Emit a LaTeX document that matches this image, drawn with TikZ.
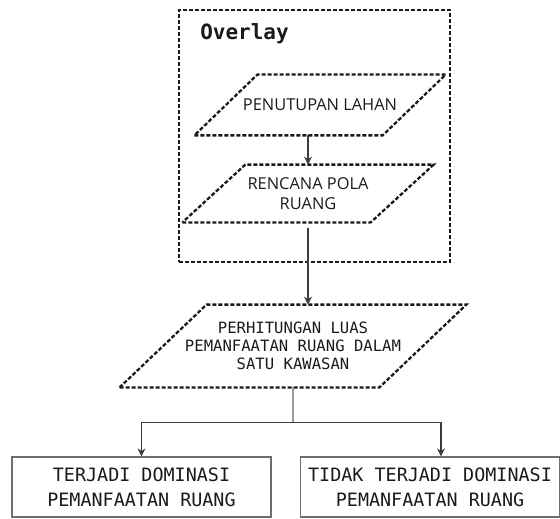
\documentclass[tikz,border=0pt]{standalone}
\usepackage{fontspec}
\setsansfont{Open Sans}
\setmonofont{DejaVu Sans Mono}
\usetikzlibrary{arrows.meta, positioning, calc}
\definecolor{boxgray}{HTML}{6E6E6E}
\definecolor{stemgray}{HTML}{9A9A9A}
\definecolor{inkblack}{HTML}{1A1A1A}

\begin{document}
\begin{tikzpicture}[
    x=0.5pt, y=-0.5pt,
    dashline/.style={draw=inkblack, line width=1.15pt, dash pattern=on 2pt off 1pt},
    paratext/.style={inner sep=0pt, align=center, text=inkblack},
    result/.style={draw=boxgray, line width=0.6pt, align=center, text=inkblack,
      font=\ttfamily\fontsize{9.2}{12.5}\selectfont,
      minimum width=129.5pt, minimum height=30pt, inner sep=0pt},
    conn/.style={draw=inkblack!85, line width=0.6pt},
    >={Stealth[length=4pt, width=4pt]},
  ]
  \useasboundingbox (0,0) rectangle (560,518);

  % Overlay frame
  \node[dashline, minimum width=135.5pt, minimum height=126pt, inner sep=0pt] (ov) at (314.5,136) {};
  \node[anchor=west, inner sep=0pt, text=inkblack, font=\ttfamily\bfseries\fontsize{10.5}{12}\selectfont]
    (ovtitle) at ([xshift=11pt, yshift=-12.5pt]ov.north west) {Overlay};

  % Input layers
  \node[paratext, font=\sffamily\fontsize{8.2}{10}\selectfont, minimum width=93.75pt, minimum height=30pt]
    (lahan) at (320,105) {PENUTUPAN LAHAN};
  \draw[dashline] ([xshift=-15.75pt]lahan.south west) -- ([xshift=-15.75pt]lahan.south east)
    -- ([xshift=15.75pt]lahan.north east) -- ([xshift=15.75pt]lahan.north west) -- cycle;

  \node[paratext, font=\sffamily\fontsize{8.2}{10}\selectfont, minimum width=93.75pt, minimum height=28.5pt]
    (pola) at (308,193.5) {RENCANA POLA\\RUANG};
  \draw[dashline] ([xshift=-15.75pt]pola.south west) -- ([xshift=-15.75pt]pola.south east)
    -- ([xshift=15.75pt]pola.north east) -- ([xshift=15.75pt]pola.north west) -- cycle;

  % Calculation
  \node[paratext, font=\ttfamily\fontsize{7.8}{9}\selectfont, minimum width=129.5pt, minimum height=41pt]
    (luas) at (293,346) {PERHITUNGAN LUAS\\PEMANFAATAN RUANG DALAM\\SATU KAWASAN};
  \draw[dashline] ([xshift=-21.75pt]luas.south west) -- ([xshift=-21.75pt]luas.south east)
    -- ([xshift=21.75pt]luas.north east) -- ([xshift=21.75pt]luas.north west) -- cycle;

  % Results
  \node[result] (dom) at (141.5,487) {TERJADI DOMINASI\\PEMANFAATAN RUANG};
  \node[result] (nodom) at (430,487) {TIDAK TERJADI DOMINASI\\PEMANFAATAN RUANG};

  % Connectors
  \draw[conn, ->] (lahan.south -| pola.north) -- (pola.north);
  \draw[conn, ->, shorten <=3pt] (pola.south) -- (pola.south |- luas.north);
  \coordinate (split) at ([yshift=-17.5pt]luas.south);
  \draw[stemgray, line width=0.6pt] (luas.south) -- (split);
  \draw[conn, ->] (split) -| (dom.north);
  \draw[conn, ->] (split) -| ([xshift=5.5pt]nodom.north);
\end{tikzpicture}
\end{document}
